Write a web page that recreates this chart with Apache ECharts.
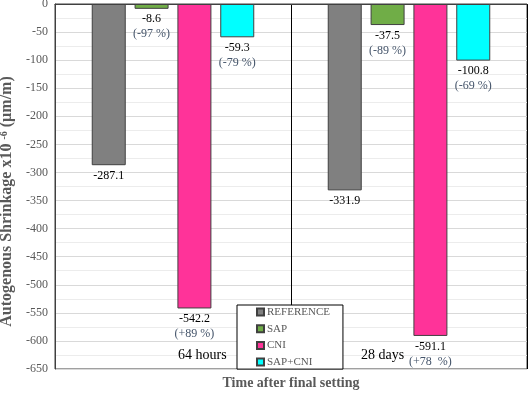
<!DOCTYPE html>
<html><head><meta charset="utf-8">
<script src="https://cdn.jsdelivr.net/npm/echarts@6/dist/echarts.min.js"></script>
<style>html,body{margin:0;padding:0;background:#fff}#c{width:532px;height:395px}</style>
</head><body><div id="c"></div>
<script>
var categories = ['64 hours', '28 days'];
var seriesNames = ['REFERENCE', 'SAP', 'CNI', 'SAP+CNI'];
var refValues = [-287.1, -331.9];
var sapValues = [-8.6, -37.5];
var cniValues = [-542.2, -591.1];
var sapCniValues = [-59.3, -100.8];
var sapPct = ['-97 %', '-89 %'];
var cniPct = ['+89 %', '+78  %'];
var sapCniPct = ['-79 %', '-69 %'];
var yTicks = {min: -650, max: 0, interval: 50};

var colors = ['#808080', '#70AD47', '#FF3399', '#00FFFF'];
var serif = '"Liberation Serif", "Times New Roman", serif';

function mkLabel(pcts) {
  return {
    show: true, position: 'bottom', distance: 3,
    formatter: function (p) {
      var s = '{v|' + p.value + '}';
      if (pcts) s += '\n{p|(' + pcts[p.dataIndex] + ')}';
      return s;
    },
    rich: {
      v: {fontFamily: serif, fontSize: 12, color: '#000', lineHeight: 15},
      p: {fontFamily: serif, fontSize: 12, color: '#44546A', lineHeight: 15}
    }
  };
}
var vals = [refValues, sapValues, cniValues, sapCniValues];
var pcts = [null, sapPct, cniPct, sapCniPct];
var series = seriesNames.map(function (n, i) {
  return {
    name: n, type: 'bar', data: vals[i],
    barWidth: 34, barGap: '26%',
    itemStyle: {color: colors[i], borderColor: '#404040', borderWidth: 1},
    label: mkLabel(pcts[i])
  };
});

var chart = echarts.init(document.getElementById('c'));
chart.setOption({
  animation: false,
  grid: {left: 55, right: 5, top: 4, bottom: 26, show: true, borderColor: '#404040', borderWidth: 1, backgroundColor: 'transparent', outerBoundsMode: 'none', containLabel: false},
  xAxis: {
    type: 'category', data: categories,
    axisLine: {show: true, lineStyle: {color: '#404040'}},
    axisTick: {show: false}, axisLabel: {show: false},
    splitLine: {show: true, lineStyle: {color: '#000', width: 1}},
    name: 'Time after final setting', nameLocation: 'middle', nameGap: 7,
    nameTextStyle: {fontFamily: serif, fontSize: 14, fontWeight: 'bold', color: '#595959'}
  },
  yAxis: {
    type: 'value', min: yTicks.min, max: yTicks.max, interval: yTicks.interval,
    axisLine: {show: true, lineStyle: {color: '#404040'}},
    axisTick: {show: false},
    axisLabel: {fontFamily: serif, fontSize: 12, color: '#595959', margin: 7},
    splitLine: {show: true, lineStyle: {color: '#d9d9d9'}},
    minorTick: {show: false, splitNumber: 2},
    minorSplitLine: {show: true, lineStyle: {color: '#ececec'}},
    name: '{t|Autogenous Shrinkage x10 }{s|-6}{t| (\u00B5m/m)}', nameLocation: 'middle', nameGap: 38,
    nameTextStyle: {
      fontFamily: serif, fontSize: 16, fontWeight: 'bold', color: '#595959',
      padding: [0, 30, 0, 0],
      rich: {
        t: {fontFamily: serif, fontSize: 16, fontWeight: 'bold', color: '#595959', verticalAlign: 'bottom'},
        s: {fontFamily: serif, fontSize: 10, fontWeight: 'bold', color: '#595959', verticalAlign: 'top', padding: [0, 0, 6, 0]}
      }
    }
  },
  legend: {
    orient: 'vertical', left: 237, top: 305, data: seriesNames,
    icon: 'rect', itemWidth: 7, itemHeight: 7, itemGap: 4.7,
    padding: [1, 13, 1, 19],
    backgroundColor: '#fff', borderColor: '#000', borderWidth: 1,
    textStyle: {fontFamily: serif, fontSize: 11, color: '#595959', lineHeight: 12, padding: [0,0,0,-2]}
  },
  graphic: [
    {type: 'text', left: 178, top: 348, style: {text: categories[0], font: '14px ' + serif, fill: '#000'}, z: 10},
    {type: 'text', left: 361, top: 348, style: {text: categories[1], font: '14px ' + serif, fill: '#000'}, z: 10}
  ],
  series: series
});
</script></body></html>
